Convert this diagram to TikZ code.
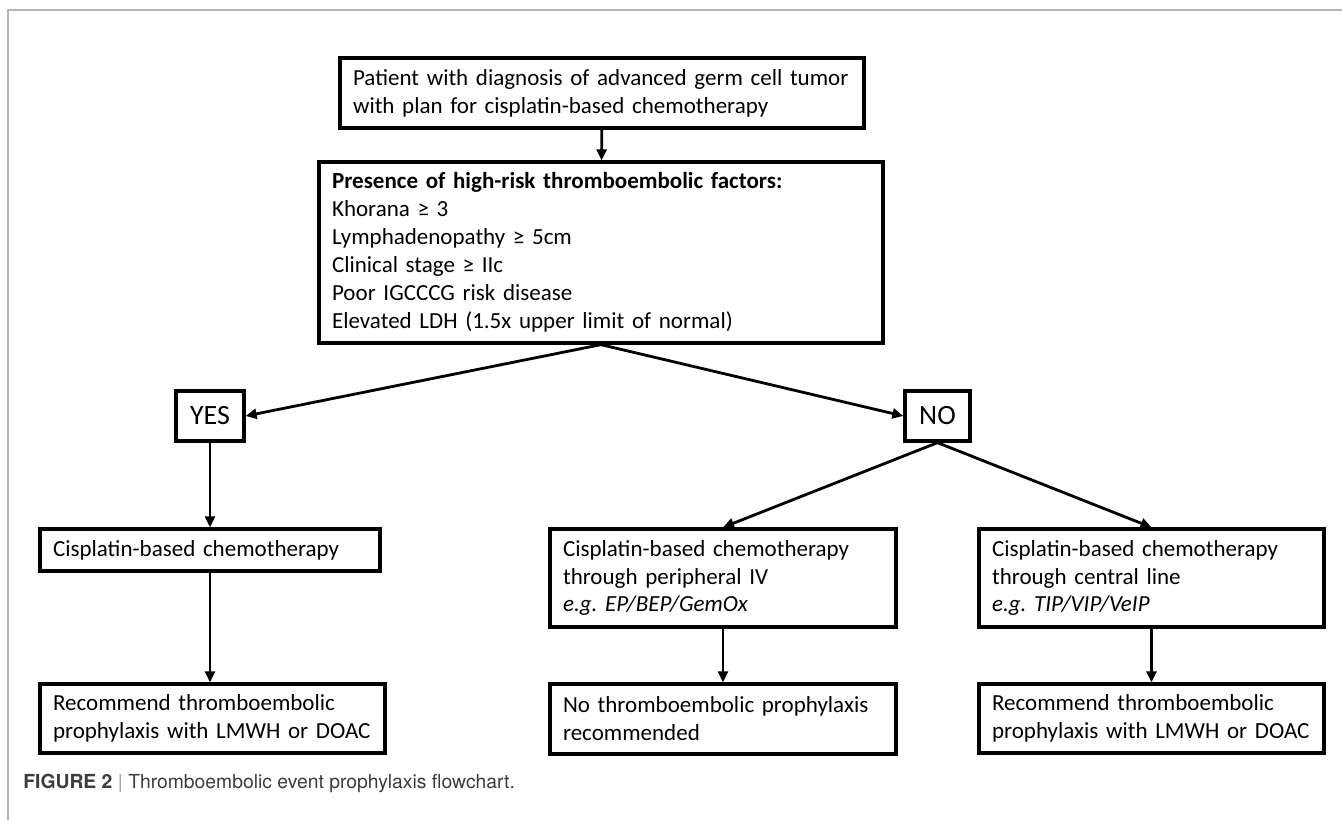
\documentclass[tikz,border=0pt]{standalone}
\usepackage{fontspec}
\setmainfont{Carlito}
\newfontfamily\capfont{TeX Gyre Heros}
\usetikzlibrary{arrows.meta,positioning}
\frenchspacing
\definecolor{cFrame}{HTML}{B4B4B4}
\definecolor{cCap}{HTML}{3C3C3C}
\definecolor{cBar}{HTML}{9A9A9A}
\tikzset{
  box/.style={draw,line width=1.9pt,align=left,inner xsep=0.26cm,inner ysep=0.1cm,
              font=\fontsize{13.1}{15.9}\selectfont},
  yn/.style={draw,line width=1.9pt,inner sep=0pt,minimum height=1cm,
              font=\fontsize{15.9}{18}\selectfont},
  flow/.style={-{Triangle[length=2.2mm,width=2mm]},line width=1.6pt},
  rim/.style={cFrame,line width=0.9pt},
}

\begin{document}
\begin{tikzpicture}[x=0.02cm,y=-0.02cm]
  \useasboundingbox (0,0) rectangle (1342,820);
  \draw[rim] (8,820) -- (8,10) -- (1342,10);

  % top of the chart
  \node[box,minimum width=10.48cm,minimum height=1.4cm,text width=9.96cm] (pt) at (602,93)
    {Patient with diagnosis of advanced germ cell tumor\\with plan for cisplatin-based chemotherapy};
  \node[box,minimum width=11.28cm,minimum height=3.62cm,text width=10.76cm] (risk) at (601,252.5)
    {\textbf{Presence of high-risk thromboembolic factors:}\\Khorana ≥ 3\\Lymphadenopathy ≥ 5cm\\
     Clinical stage ≥ IIc\\Poor IGCCCG risk disease\\Elevated LDH (1.5x upper limit of normal)};
  \node[yn,minimum width=1.36cm] (yes) at (210,416) {YES};
  \node[yn,minimum width=1.3cm] (no) at (937.5,416) {NO};

  % yes branch
  \node[box,minimum width=6.8cm,minimum height=0.84cm,text width=6.28cm] (chemo) at (210,550)
    {Cisplatin-based chemotherapy};
  \node[box,minimum width=6.9cm,minimum height=1.38cm,text width=6.38cm] (recA) at (212.5,718.5)
    {Recommend thromboembolic\\prophylaxis with LMWH or DOAC};

  % no branch
  \node[box,minimum width=6.92cm,minimum height=1.96cm,text width=6.4cm] (periph) at (723,578)
    {Cisplatin-based chemotherapy\\through peripheral IV\\\textit{e.g. EP/BEP/GemOx}};
  \node[box,minimum width=6.9cm,minimum height=1.96cm,text width=6.38cm] (central) at (1151.5,578)
    {Cisplatin-based chemotherapy\\through central line\\\textit{e.g. TIP/VIP/VeIP}};
  \node[box,minimum width=6.92cm,minimum height=1.4cm,text width=6.4cm] (none) at (723,719)
    {No thromboembolic prophylaxis\\recommended};
  \node[box,minimum width=6.9cm,minimum height=1.38cm,text width=6.38cm] (recB) at (1151.5,718.5)
    {Recommend thromboembolic\\prophylaxis with LMWH or DOAC};

  \draw[flow] (pt) -- (risk);
  \draw[flow] (risk.south) -- (yes.east);
  \draw[flow] (risk.south) -- (no.west);
  \draw[flow] (yes) -- (chemo);
  \draw[flow] (chemo) -- (chemo.south |- recA.north);
  \draw[flow] (no.south) -- (periph.north);
  \draw[flow] (no.south) -- (central.north);
  \draw[flow] (periph) -- (none);
  \draw[flow] (central) -- (recB);

  \node[anchor=west,inner sep=0pt,text=cCap,font=\capfont\fontsize{11}{13}\selectfont] (cap) at (23,783)
    {\textbf{FIGURE 2} {\color{cBar}|} Thromboembolic event prophylaxis flowchart.};
\end{tikzpicture}
\end{document}
